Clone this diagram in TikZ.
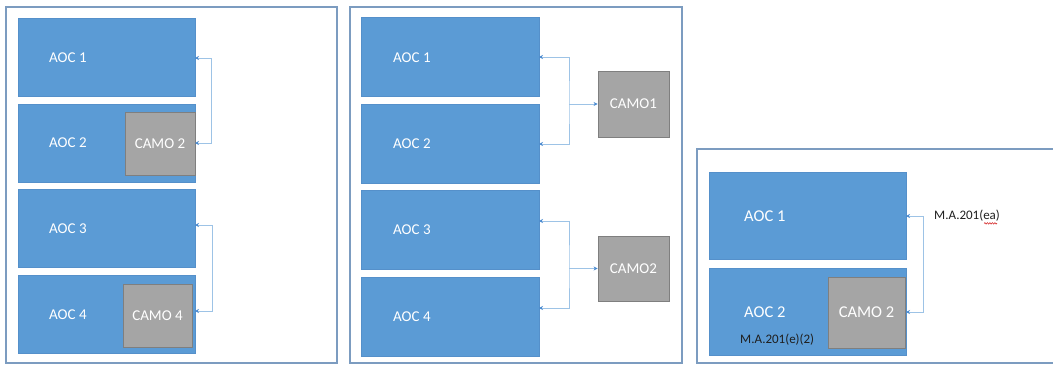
\documentclass[tikz,border=0pt]{standalone}
\usepackage{fontspec}
\setmainfont{Carlito}
\usetikzlibrary{arrows.meta,decorations.pathmorphing}
\definecolor{aocblue}{HTML}{5B9BD5}
\definecolor{aocedge}{HTML}{5590CA}
\definecolor{camogray}{HTML}{A5A5A5}
\definecolor{camoedge}{HTML}{7F7F7F}
\definecolor{framecol}{HTML}{7C9CC0}
\definecolor{conncol}{HTML}{9DC3E6}
\definecolor{tipcol}{HTML}{4A8AD0}
\tikzset{
  frame/.style={draw=framecol,line width=1.2pt},
  aocbox/.style={draw=aocedge,line width=0.6pt,fill=aocblue},
  camobox/.style={draw=camoedge,line width=0.8pt,fill=camogray,font=\fontsize{15}{17}\selectfont,text=white},
  aoctext/.style={anchor=west,text=white,font=\fontsize{15}{17}\selectfont,inner sep=0pt},
  bigtext/.style={anchor=west,text=white,font=\fontsize{16.5}{19}\selectfont,inner sep=0pt},
  reftext/.style={anchor=west,text=black!88,font=\fontsize{13}{15}\selectfont,inner sep=0pt},
  conn/.style={draw=conncol,line width=0.9pt,{Stealth[length=4pt,width=4pt,color=tipcol]}-{Stealth[length=4pt,width=4pt,color=tipcol]}},
  conn1/.style={draw=conncol,line width=0.9pt,-{Stealth[length=4pt,width=4pt,color=tipcol]}},
}
\begin{document}
\begin{tikzpicture}[x=1pt,y=-1pt]
\useasboundingbox (0,0) rectangle (1053,365);
\clip (0,0) rectangle (1053,365);
% ---------- Panel 1 ----------
\draw[frame] (6,7) rectangle (337,363);
\path[aocbox] (18,18) rectangle (195,96);
\path[aocbox] (18,104) rectangle (195,182);
\path[aocbox] (18,189) rectangle (195,267);
\path[aocbox] (18,275) rectangle (195,353);
\coordinate (p1a1) at (195,58);
\coordinate (p1a2) at (195,143);
\coordinate (p1a3) at (195,225);
\coordinate (p1a4) at (195,311);
\node[aoctext] (t11) at (49,58) {AOC 1};
\node[aoctext] (t12) at (49,143) {AOC 2};
\node[aoctext] (t13) at (49,229) {AOC 3};
\node[aoctext] (t14) at (49,315) {AOC 4};
\node[camobox,minimum width=70,minimum height=63] (c12) at (160,143.5) {CAMO 2};
\node[camobox,minimum width=69,minimum height=63] (c14) at (157.5,315.5) {CAMO 4};
\draw[conn] (p1a1) -- ++(16,0) |- (p1a2);
\draw[conn] (p1a3) -- ++(17,0) |- (p1a4);
% ---------- Panel 2 ----------
\draw[frame] (350,7) rectangle (682,363);
\path[aocbox] (361,17) rectangle (539,96);
\path[aocbox] (361,104) rectangle (539,183);
\path[aocbox] (361,190) rectangle (539,269);
\path[aocbox] (361,277) rectangle (539,356);
\node[aoctext] (t21) at (393,58) {AOC 1};
\node[aoctext] (t22) at (393,144) {AOC 2};
\node[aoctext] (t23) at (393,230) {AOC 3};
\node[aoctext] (t24) at (393,317) {AOC 4};
\node[camobox,minimum width=71,minimum height=66] (cm1) at (633.5,104) {CAMO1};
\node[camobox,minimum width=71,minimum height=65] (cm2) at (633.5,268.5) {CAMO2};
\coordinate (p2a1) at (539,57);
\coordinate (p2a2) at (539,144);
\coordinate (p2a3) at (539,221);
\coordinate (p2a4) at (539,308);
\coordinate (j1) at (569,104);
\coordinate (j2) at (569,268.5);
\draw[conn] (p2a1) -| (j1) |- (p2a2);
\draw[conn1] (j1) -- (cm1.west);
\draw[conn] (p2a3) -| (j2) |- (p2a4);
\draw[conn1] (j2) -- (cm2.west);
% ---------- Panel 3 ----------
\draw[frame] (697,149) rectangle (1070,363);
\path[aocbox] (709,172) rectangle (906,259);
\path[aocbox] (709,268) rectangle (906,355);
\node[camobox,minimum width=77,minimum height=71,font=\fontsize{16.5}{19}\selectfont] (c32) at (866.5,312.5) {CAMO 2};
\node[bigtext] (t31) at (744,216) {AOC 1};
\node[bigtext] (t32) at (744,312) {AOC 2};
\node[reftext] (r1) at (934,216) {M.A.201(ea)};
\node[reftext] (r2) at (740,340) {M.A.201(e)(2)};
\coordinate (p3a1) at (906,216);
\coordinate (p3a2) at (906,312);
\draw[conn] (p3a1) -- ++(17,0) |- (p3a2);
\draw[red!80!black,line width=0.5pt,decorate,decoration={snake,amplitude=0.7pt,segment length=2.5pt}] ([xshift=-16pt,yshift=-1.5pt]r1.south east) -- ([xshift=-3pt,yshift=-1.5pt]r1.south east);
\end{tikzpicture}
\end{document}
